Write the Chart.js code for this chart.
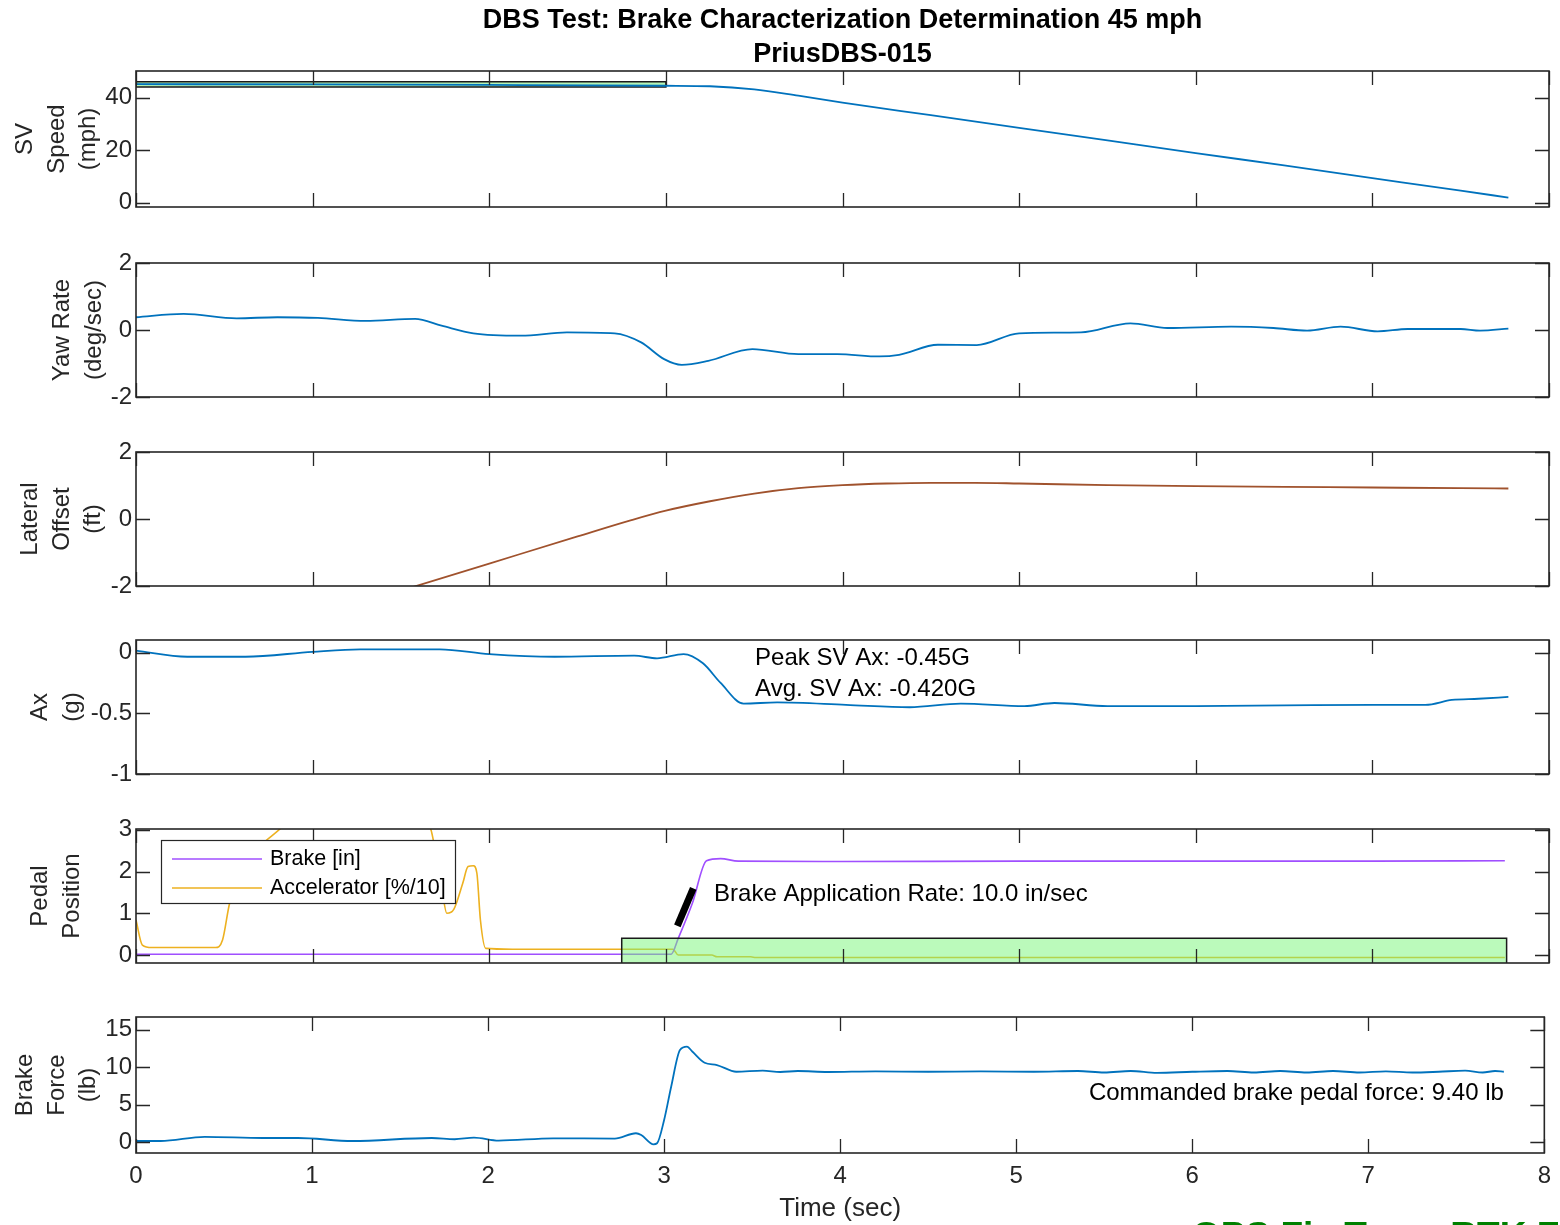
<!DOCTYPE html>
<html>
<head>
<meta charset="utf-8">
<title>DBS Test: Brake Characterization Determination 45 mph</title>
<script src="https://cdn.jsdelivr.net/npm/chart.js@4.4.1/dist/chart.umd.min.js"></script>
<style>
  html, body { margin: 0; padding: 0; background: #ffffff; }
  #page { position: relative; width: 1560px; height: 1225px; overflow: hidden; background: #ffffff; }
  #page canvas { position: absolute; left: 0; }
</style>
</head>
<body>
<div id="page"></div>
<script>
// ---------------- run data ----------------
// Time axis (sec)
const timeTicks = [0, 1, 2, 3, 4, 5, 6, 7, 8];

// Subject-vehicle speed (mph)
const speedTime = [0, 1, 2, 3, 3.25, 3.5, 3.75, 4, 4.5, 5, 5.5, 6, 6.5, 7, 7.5, 7.77];
const speedMph  = [45.1, 45.0, 44.8, 44.5, 44.3, 43.1, 40.7, 38.1, 33.3, 28.5, 23.7, 18.9, 14.2, 9.4, 4.6, 2.0];
const speedTicks = [0, 20, 40];
// speed tolerance corridor: start time, end time, low speed, high speed
const speedCorridor = [0, 3, 44, 46];

// Yaw rate (deg/sec)
const yawTime = [0, 0.27, 0.57, 0.80, 1.03, 1.30, 1.58, 1.73, 1.91, 2.18, 2.44, 2.71, 2.86, 2.99, 3.09, 3.24, 3.49, 3.75, 3.97, 4.21,
                 4.32, 4.54, 4.76, 5.0, 5.35, 5.63, 5.84, 6.20, 6.44, 6.63, 6.82, 7.03, 7.20, 7.50, 7.61, 7.77];
const yawRate = [0.38, 0.48, 0.35, 0.38, 0.36, 0.27, 0.33, 0.13, -0.10, -0.17, -0.07, -0.10, -0.37, -0.87, -1.04, -0.92, -0.57, -0.72, -0.72, -0.79,
                 -0.74, -0.44, -0.45, -0.10, -0.07, 0.20, 0.06, 0.10, 0.06, -0.02, 0.10, -0.04, 0.03, 0.03, -0.02, 0.04];
const yawTicks = [-2, 0, 2];

// Lateral offset (ft)
const latTime   = [1.5, 2.0, 2.5, 2.8, 3.0, 3.25, 3.5, 3.75, 4.0, 4.25, 4.5, 4.75, 5.0, 5.5, 6.0, 6.5, 7.0, 7.5, 7.77];
const latOffset = [-2.14, -1.33, -0.52, -0.04, 0.25, 0.53, 0.76, 0.92, 1.01, 1.06, 1.08, 1.08, 1.06, 1.01, 0.98, 0.96, 0.94, 0.92, 0.91];
const latTicks = [-2, 0, 2];

// Longitudinal acceleration (g)
const axTime = [0, 0.29, 0.62, 1.0, 1.27, 1.72, 2.0, 2.37, 2.82, 2.95, 3.10, 3.21, 3.31, 3.44, 3.63, 4.02, 4.38, 4.67, 5.03, 5.2,
                5.5, 6.0, 6.5, 7.0, 7.3, 7.45, 7.6, 7.77];
const axG    = [0.016, -0.034, -0.034, 0.007, 0.027, 0.027, -0.012, -0.034, -0.025, -0.047, -0.012, -0.088, -0.25, -0.42, -0.41, -0.43, -0.45, -0.42, -0.44, -0.415,
                -0.44, -0.44, -0.435, -0.43, -0.43, -0.39, -0.38, -0.365];
const axTicks = [-1, -0.5, 0];
const avgAx = -0.420;

// Pedal positions
const brakeTime = [0, 1, 2, 3.03, 3.07, 3.15, 3.23, 3.31, 3.41, 4, 5, 6, 7, 7.75];
const brakeIn   = [0.02, 0.02, 0.02, 0.02, 0.40, 1.24, 2.26, 2.31, 2.25, 2.24, 2.25, 2.25, 2.25, 2.26];
const accelTime  = [0, 0.036, 0.09, 0.45, 0.49, 0.53, 0.61, 0.70, 0.83, 1.0, 1.25, 1.5, 1.6, 1.67, 1.69, 1.73, 1.76, 1.80, 1.85, 1.88,
                    1.91, 1.93, 1.95, 1.98, 2.13, 3.04, 3.07, 3.26, 3.29, 3.48, 3.51, 7.75];
const accelPct10 = [0.84, 0.24, 0.18, 0.18, 0.36, 1.24, 2.12, 2.60, 3.08, 3.9, 4.2, 3.9, 3.4, 3.0, 2.6, 1.64, 1.0, 1.10, 1.72, 2.12,
                    2.14, 1.96, 0.84, 0.16, 0.14, 0.14, 0.0, 0.0, -0.04, -0.04, -0.06, -0.06];
const pedalTicks = [0, 1, 2, 3];
// brake hold window: start time, end time, low position, high position
const brakeWindow = [2.75, 7.76, -0.3, 0.40];
// brake application rate (in/sec), fitted over this start point and duration
const brakeRate = 10.0;
const rateStart = [3.065, 0.70];
const rateSpan = 0.09;

// Brake pedal force (lb)
const forceTime = [0, 0.14, 0.39, 0.72, 0.92, 1.23, 1.68, 1.81, 1.92, 2.06, 2.37, 2.72, 2.84, 2.87, 2.94, 2.96, 3.0, 3.04, 3.09, 3.13,
                   3.16, 3.23, 3.30, 3.41, 3.56, 3.66, 3.76, 3.93, 4.2, 4.5, 4.8, 5.1, 5.35, 5.5, 5.65, 5.8, 6.0, 6.2, 6.35, 6.5,
                   6.65, 6.8, 6.95, 7.1, 7.25, 7.4, 7.55, 7.65, 7.72, 7.77];
const forceLb   = [0.17, 0.17, 0.71, 0.57, 0.57, 0.17, 0.57, 0.40, 0.62, 0.22, 0.53, 0.49, 1.2, 0.97, -0.27, -0.13, 2.97, 7.4, 12.3, 12.75,
                   12.1, 10.6, 10.3, 9.4, 9.55, 9.37, 9.5, 9.37, 9.45, 9.4, 9.45, 9.4, 9.5, 9.3, 9.5, 9.25, 9.4, 9.5, 9.3, 9.5,
                   9.3, 9.5, 9.3, 9.45, 9.3, 9.4, 9.55, 9.3, 9.5, 9.4];
const forceTicks = [0, 5, 10, 15];
const commandedForce = 9.40;

// ---------------- drawing ----------------
const FONT = '"Liberation Sans", Arial, Helvetica, sans-serif';
const INK = '#262626';
const BLUE = '#0072BD';
const BROWN = '#A0522D';
const PURPLE = '#A04FFF';
const ORANGE = '#EDB120';
const PAGE_W = 1560, PLOT_L = 136, PLOT_R = 1549;
const TICK_LEN = 14;

const pts = (ts, vs) => ts.map((t, i) => ({ x: t, y: vs[i] }));
const rectPts = ([t0, t1, lo, hi]) => [
  { x: t0, y: lo }, { x: t1, y: lo }, { x: t1, y: hi }, { x: t0, y: hi }, { x: t0, y: lo }
];

function curve(data, color, order, width) {
  return {
    data, borderColor: color, borderWidth: width || 1.8, pointRadius: 0, fill: false,
    cubicInterpolationMode: 'monotone', order
  };
}
function region(data, fillColor, order) {
  return {
    data, borderColor: '#1a1a1a', borderWidth: 1.5, backgroundColor: fillColor,
    pointRadius: 0, fill: 'shape', tension: 0, order
  };
}

// axes box with inward ticks on all four sides
function framePlugin(yTicks) {
  return {
    id: 'frame',
    afterDatasetsDraw(chart) {
      const { ctx, chartArea: a, scales: { x, y } } = chart;
      ctx.save();
      ctx.strokeStyle = INK;
      ctx.lineWidth = 1.3;
      ctx.beginPath();
      timeTicks.forEach(t => {
        const px = Math.round(x.getPixelForValue(t)) + 0.5;
        ctx.moveTo(px, a.bottom); ctx.lineTo(px, a.bottom - TICK_LEN);
        ctx.moveTo(px, a.top); ctx.lineTo(px, a.top + TICK_LEN);
      });
      yTicks.forEach(v => {
        const py = Math.round(y.getPixelForValue(v)) + 0.5;
        ctx.moveTo(a.left, py); ctx.lineTo(a.left + TICK_LEN, py);
        ctx.moveTo(a.right, py); ctx.lineTo(a.right - TICK_LEN, py);
      });
      ctx.stroke();
      ctx.lineWidth = 1.6;
      ctx.strokeRect(a.left, a.top, a.right - a.left, a.bottom - a.top);
      ctx.restore();
    }
  };
}

function makePanel(p) {
  const c = document.createElement('canvas');
  c.width = PAGE_W;
  c.height = p.cBot - p.cTop;
  c.style.top = p.cTop + 'px';
  document.getElementById('page').appendChild(c);
  const showX = !!p.showX;
  const xScale = {
    type: 'linear', min: 0, max: 8, display: showX,
    grid: { display: false, drawTicks: false }, border: { display: false },
    ticks: { padding: 9, color: INK, font: { family: FONT, size: 24 }, autoSkip: false, maxRotation: 0,
             callback: v => String(v) },
    afterBuildTicks: s => { s.ticks = timeTicks.map(v => ({ value: v })); },
    title: { display: showX, text: 'Time (sec)', color: INK, font: { family: FONT, size: 26 }, padding: { top: 0, bottom: 1 } }
  };
  if (showX) xScale.afterFit = s => { s.height = p.cBot - p.bottom; };
  new Chart(c, {
    type: 'line',
    data: { datasets: p.datasets },
    plugins: [framePlugin(p.yTicks), { id: 'notes', afterDraw: chart => { if (p.notes) p.notes(chart, p); } }],
    options: {
      responsive: false, animation: false, events: [],
      layout: { padding: { left: 0, right: PAGE_W - PLOT_R, top: p.top - p.cTop, bottom: showX ? 0 : p.cBot - p.bottom } },
      plugins: { legend: { display: false }, tooltip: { enabled: false } },
      scales: {
        x: xScale,
        y: {
          type: 'linear', min: p.yMin, max: p.yMax,
          grid: { display: false, drawTicks: false }, border: { display: false },
          ticks: { padding: 4, color: INK, font: { family: FONT, size: 24 }, autoSkip: false, callback: v => String(v) },
          afterBuildTicks: s => { s.ticks = p.yTicks.map(v => ({ value: v })); },
          title: { display: true, text: p.label, color: INK, font: { family: FONT, size: 24, lineHeight: 1.31 },
                   padding: { top: p.labelPad, bottom: 0 } },
          afterFit: s => { s.width = PLOT_L; }
        }
      }
    }
  });
}

function text(ctx, str, x, y, font, align, color, baseline) {
  ctx.font = font;
  ctx.textAlign = align || 'left';
  ctx.textBaseline = baseline || 'middle';
  ctx.fillStyle = color || '#000000';
  ctx.fillText(str, x, y);
}

const panels = [
  {
    cTop: 0, cBot: 235, top: 71, bottom: 207, yMin: -1.6, yMax: 50.1, yTicks: speedTicks,
    label: ['SV', 'Speed', '(mph)'], labelPad: 10,
    datasets: [
      curve(pts(speedTime, speedMph), BLUE, 1),
      region(rectPts(speedCorridor), 'rgba(120, 235, 120, 0.55)', 2)
    ],
    notes(chart) {
      const { ctx, chartArea: a } = chart;
      const cx = (a.left + a.right) / 2;
      ctx.save();
      text(ctx, 'DBS Test: Brake Characterization Determination 45 mph', cx, 21, `bold 27px ${FONT}`, 'center');
      text(ctx, 'PriusDBS-015', cx, 55, `bold 27px ${FONT}`, 'center');
      ctx.restore();
    }
  },
  {
    cTop: 235, cBot: 424, top: 263, bottom: 397, yMin: -2, yMax: 2, yTicks: yawTicks,
    label: ['Yaw Rate', '(deg/sec)'], labelPad: 47,
    datasets: [curve(pts(yawTime, yawRate), BLUE, 1)]
  },
  {
    cTop: 424, cBot: 613, top: 452, bottom: 586, yMin: -2, yMax: 2, yTicks: latTicks,
    label: ['Lateral', 'Offset', '(ft)'], labelPad: 15,
    datasets: [curve(pts(latTime, latOffset), BROWN, 1)]
  },
  {
    cTop: 613, cBot: 802, top: 640, bottom: 774, yMin: -1, yMax: 0.104, yTicks: axTicks,
    label: ['Ax', '(g)'], labelPad: 25,
    datasets: [curve(pts(axTime, axG), BLUE, 1)],
    notes(chart) {
      const { ctx, scales: { x, y } } = chart;
      const peak = Math.min(...axG);
      const px = x.getPixelForValue(3.505);
      ctx.save();
      text(ctx, `Peak SV Ax: ${peak.toFixed(2)}G`, px, y.getPixelForValue(-0.045), `24px ${FONT}`);
      text(ctx, `Avg. SV Ax: ${avgAx.toFixed(3)}G`, px, y.getPixelForValue(-0.30), `24px ${FONT}`);
      ctx.restore();
    }
  },
  {
    cTop: 802, cBot: 990, top: 829, bottom: 963, yMin: -0.19, yMax: 3.02, yTicks: pedalTicks,
    label: ['Pedal', 'Position'], labelPad: 25,
    datasets: [
      region(rectPts(brakeWindow), 'rgba(120, 245, 120, 0.5)', 1),
      curve(pts(brakeTime, brakeIn), PURPLE, 2, 1.6),
      curve(pts(accelTime, accelPct10), ORANGE, 3, 1.6),
      {
        data: [{ x: rateStart[0], y: rateStart[1] },
               { x: rateStart[0] + rateSpan, y: rateStart[1] + brakeRate * rateSpan }],
        borderColor: '#000000', borderWidth: 7, borderCapStyle: 'butt', pointRadius: 0, fill: false, order: 0
      }
    ],
    notes(chart) {
      const { ctx, chartArea: a, scales: { x, y } } = chart;
      ctx.save();
      text(ctx, `Brake Application Rate: ${brakeRate.toFixed(1)} in/sec`,
           x.getPixelForValue(3.273), y.getPixelForValue(1.45), `24px ${FONT}`);
      // legend
      const lx = a.left + 25, ly = a.top + 11, lw = 294, lh = 63;
      ctx.fillStyle = '#ffffff';
      ctx.fillRect(lx, ly, lw, lh);
      ctx.strokeStyle = INK;
      ctx.lineWidth = 1.2;
      ctx.strokeRect(lx + 0.5, ly + 0.5, lw, lh);
      [['Brake [in]', PURPLE, 19], ['Accelerator [%/10]', ORANGE, 48]].forEach(([name, color, dy]) => {
        ctx.strokeStyle = color;
        ctx.lineWidth = 1.6;
        ctx.beginPath();
        ctx.moveTo(lx + 11, ly + dy);
        ctx.lineTo(lx + 101, ly + dy);
        ctx.stroke();
        text(ctx, name, lx + 109, ly + dy, `21.5px ${FONT}`);
      });
      ctx.restore();
    }
  },
  {
    cTop: 990, cBot: 1225, top: 1017, bottom: 1153, yMin: -1.43, yMax: 16.7, yTicks: forceTicks, showX: true,
    label: ['Brake', 'Force', '(lb)'], labelPad: 10,
    datasets: [curve(pts(forceTime, forceLb), BLUE, 1)],
    notes(chart, p) {
      const { ctx, scales: { x, y } } = chart;
      ctx.save();
      text(ctx, `Commanded brake pedal force: ${commandedForce.toFixed(2)} lb`,
           x.getPixelForValue(7.77), y.getPixelForValue(6.5), `24px ${FONT}`, 'right');
      text(ctx, 'GPS Fix Type: RTK Fixed', 1192, 1248 - p.cTop, `bold 37px ${FONT}`, 'left', '#008000', 'alphabetic');
      ctx.restore();
    }
  }
];

panels.forEach(makePanel);
</script>
</body>
</html>
